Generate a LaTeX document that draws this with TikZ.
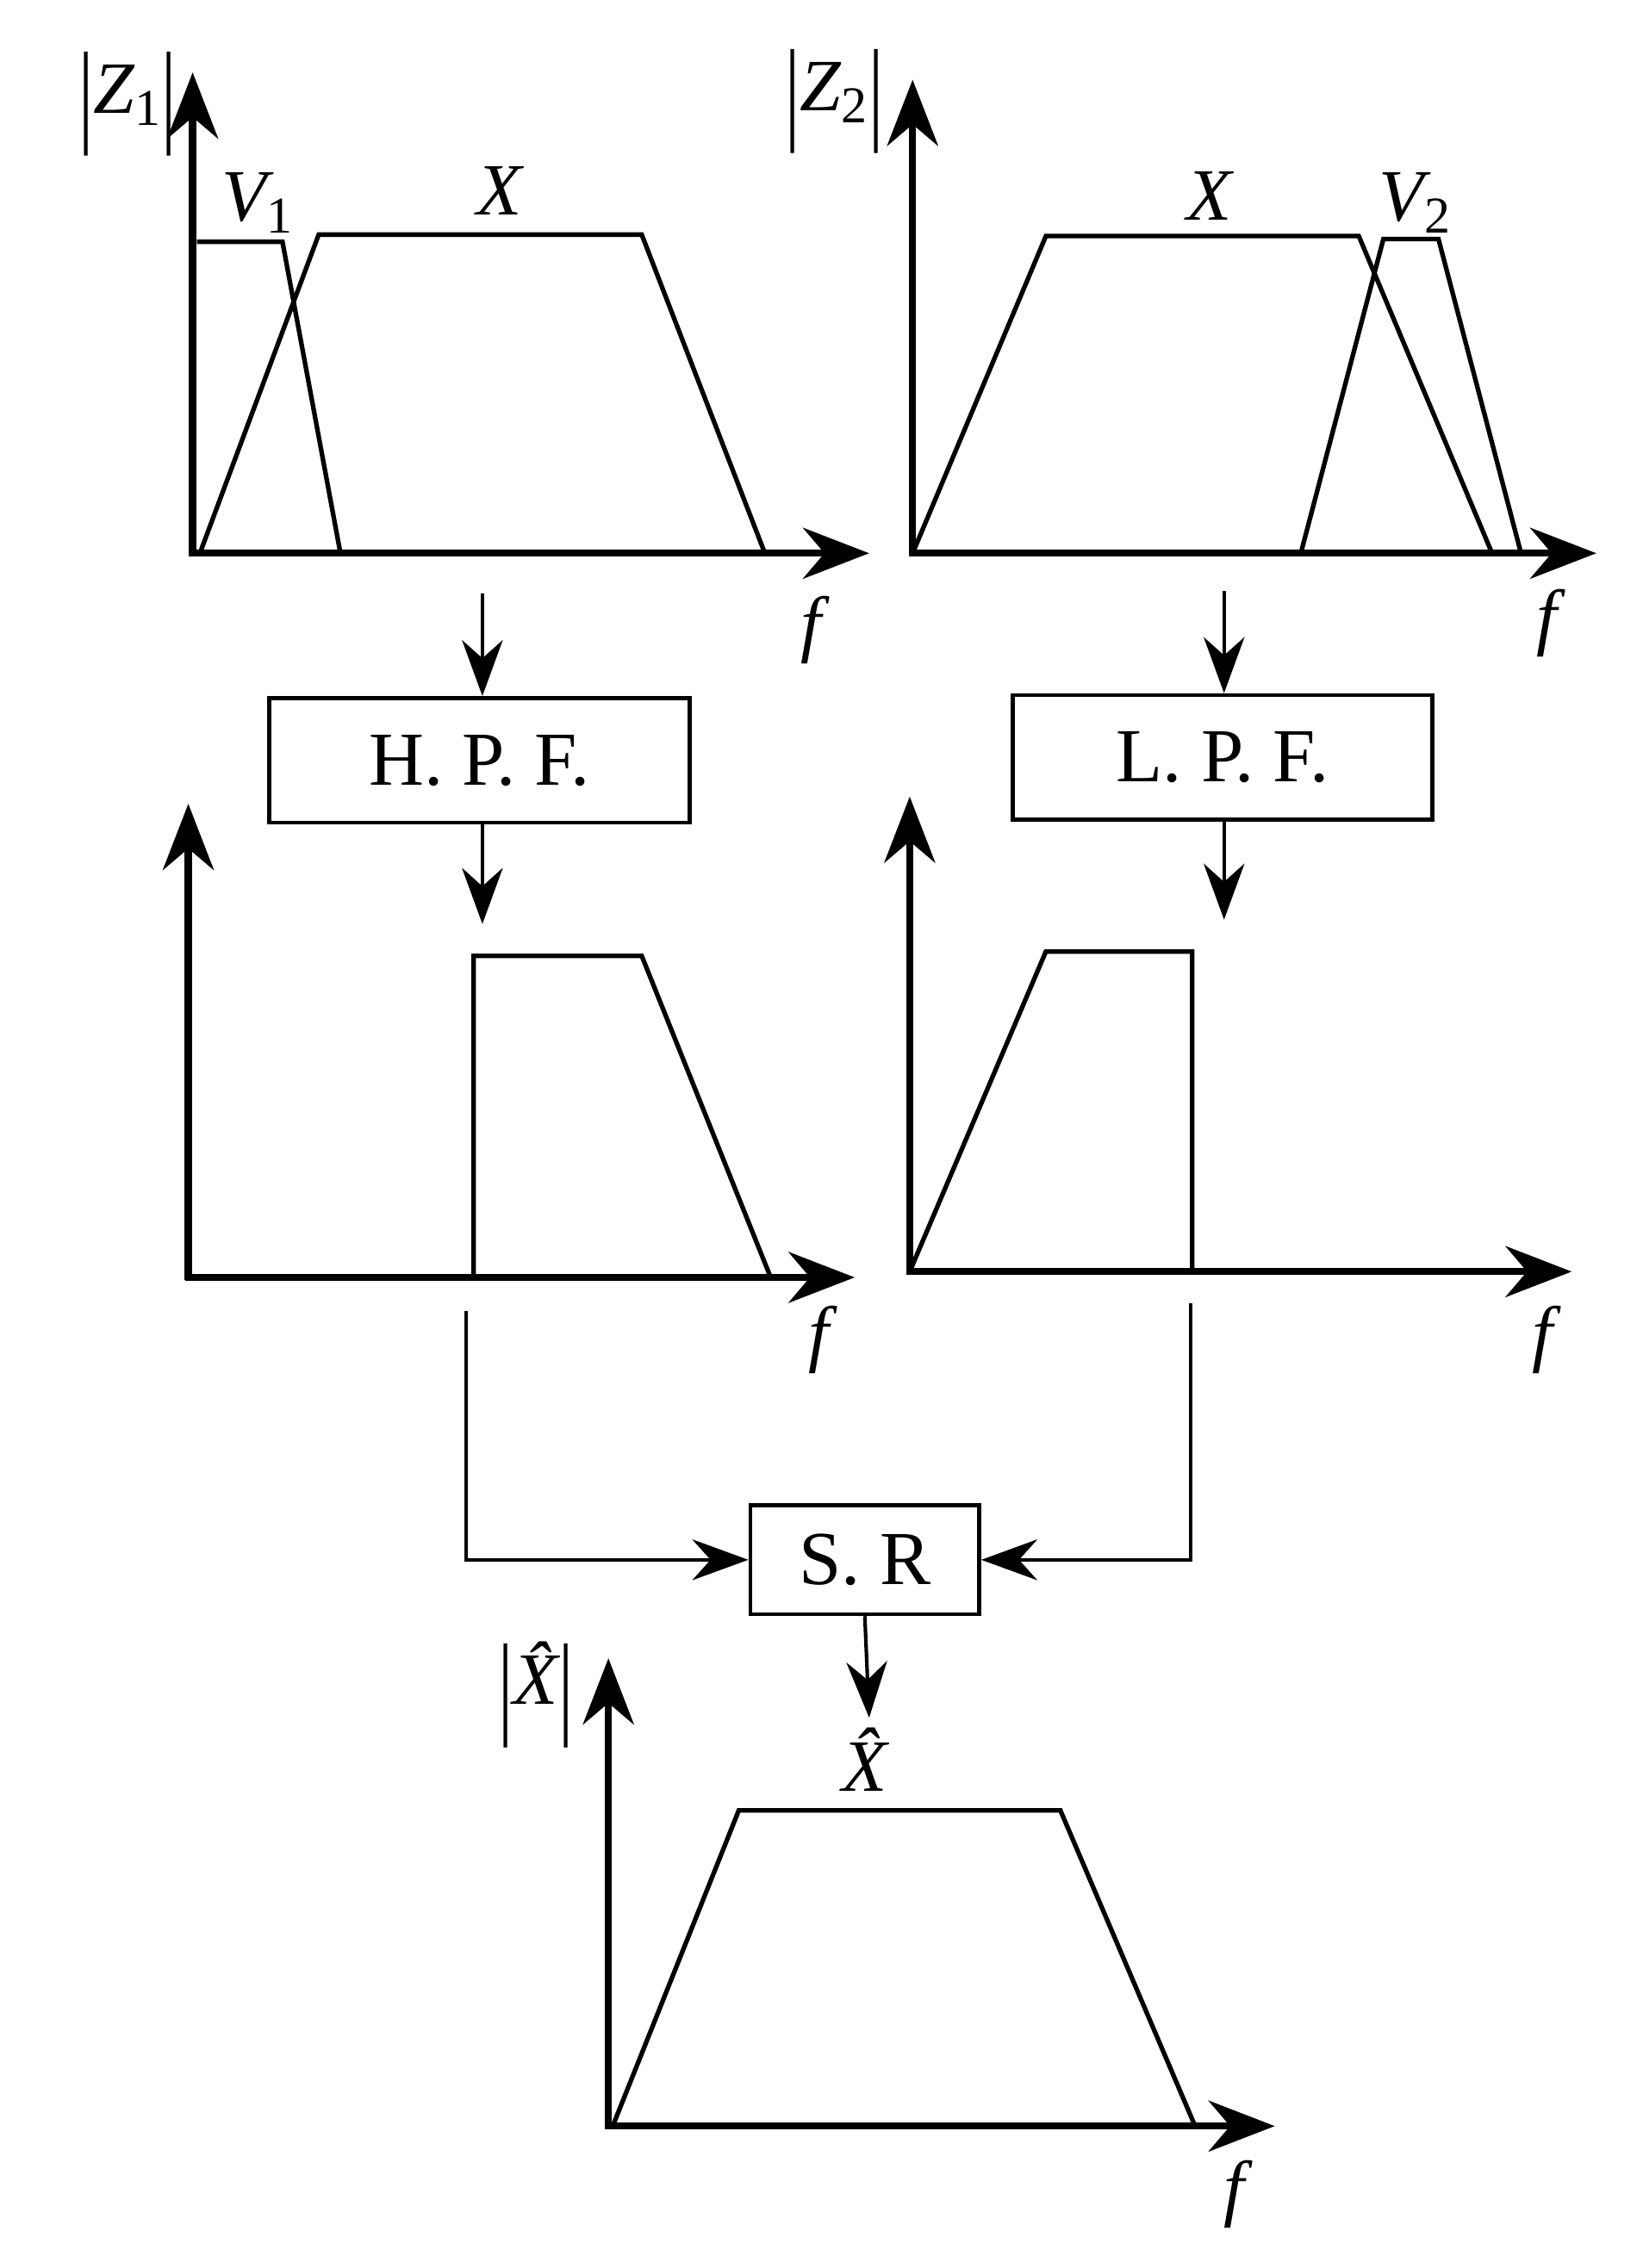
\documentclass[tikz,border=0pt]{standalone}
\usepackage{fontspec}
\setmainfont{Liberation Serif}
\usetikzlibrary{arrows.meta}
\newcommand{\tbar}{\raisebox{-0.25em}{\scalebox{1}[1.55]{\upshape|}}}
\begin{document}
\begin{tikzpicture}[x=0.02cm,y=-0.02cm,
 axis/.style={line width=2.8pt,-{Stealth[length=26pt,width=20pt]}},
 trace/.style={line width=1.8pt,line join=miter},
 conn/.style={line width=1.4pt,-{Stealth[length=22pt,width=16pt]}},
 box/.style={draw,line width=1.6pt,minimum width=5.8cm,minimum height=1.72cm,font=\fontsize{30}{32}\selectfont},
 lab/.style={font=\fontsize{29}{30}\selectfont\itshape,inner sep=1pt}]
\useasboundingbox (0,0) rectangle (1134,1566);
% panel 1
\draw[axis] (133,384) -- (133,50);
\draw[axis] (131,382) -- (600,382);
\draw[trace] (136,167) -- (195,167) -- (235,382);
\draw[trace] (138,382) -- (220,162) -- (443,162) -- (528,382);
\node[lab] (z1) at (88,72) {\tbar Z\textsubscript{\upshape 1}\tbar};
\node[lab] (v1) at (178,140) {V\textsubscript{\upshape 1}};
\node[lab] (x1) at (345,132) {X};
\node[lab] (f1) at (560,435) {f};
% panel 2
\draw[axis] (630,384) -- (630,55);
\draw[axis] (628,382) -- (1102,382);
\draw[trace] (630,382) -- (722,163) -- (938,163) -- (1030,382);
\draw[trace] (898,382) -- (955,165) -- (993,165) -- (1050,382);
\node[lab] (z2) at (576,70) {\tbar Z\textsubscript{\upshape 2}\tbar};
\node[lab] (x2) at (835,135) {X};
\node[lab] (v2) at (977,140) {V\textsubscript{\upshape 2}};
\node[lab] (f2) at (1068,430) {f};
% boxes
\node[box] (hpf) at (331,525) {H. P. F.};
\node[box] (lpf) at (844,523) {L. P. F.};
\coordinate (a1) at (333,410); \coordinate (a2) at (845,408);
\coordinate (b1) at (333,638); \coordinate (b2) at (845,635);
\draw[conn] (a1) -- (hpf.north -| a1);
\draw[conn] (a2) -- (lpf.north -| a2);
\draw[conn] (hpf.south -| b1) -- (b1);
\draw[conn] (lpf.south -| b2) -- (b2);
% panel 3
\draw[axis] (130,884) -- (130,555);
\draw[axis] (128,882) -- (590,882);
\draw[trace] (327,882) -- (327,660) -- (443,660) -- (532,882);
\node[lab] (f3) at (565,925) {f};
% panel 4
\draw[axis] (628,880) -- (628,550);
\draw[axis] (626,878) -- (1085,878);
\draw[trace] (628,878) -- (722,657) -- (823,657) -- (823,878);
\node[lab] (f4) at (1065,925) {f};
% SR
\node[box,minimum width=3.16cm,minimum height=1.5cm] (sr) at (597,1077) {S. R};
\coordinate (c1) at (322,905); \coordinate (c2) at (822,900);
\draw[conn] (c1) |- (sr.west);
\draw[conn] (c2) |- (sr.east);
\node[lab] (xh) at (597,1215) {\^{X}};
\draw[conn] (sr.south) -- (600,1186);
% panel 5
\draw[axis] (420,1470) -- (420,1145);
\draw[axis] (418,1468) -- (880,1468);
\draw[trace] (423,1468) -- (510,1250) -- (732,1250) -- (825,1468);
\node[lab] (xa) at (370,1170) {\tbar\^{X}\tbar};
\node[lab] (f5) at (852,1515) {f};
\end{tikzpicture}
\end{document}
